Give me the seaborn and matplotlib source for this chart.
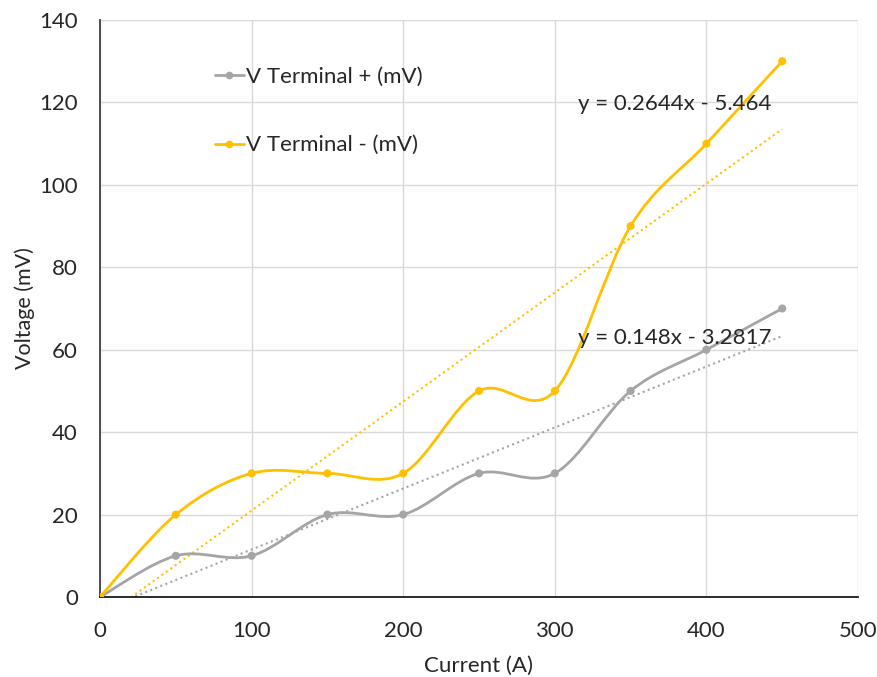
import numpy as np
import pandas as pd
import matplotlib
matplotlib.use("Agg")
import matplotlib.pyplot as plt
from matplotlib.path import Path
from matplotlib.patches import PathPatch
from matplotlib.lines import Line2D
from matplotlib.ticker import MultipleLocator
import seaborn as sns

# Measured terminal voltages versus current
current = [0, 50, 100, 150, 200, 250, 300, 350, 400, 450]
v_pos = [0, 10, 10, 20, 20, 30, 30, 50, 60, 70]
v_neg = [0, 20, 30, 30, 30, 50, 50, 90, 110, 130]

series_names = ["V Terminal + (mV)", "V Terminal - (mV)"]
series_values = [v_pos, v_neg]
series_colors = ["#A5A5A5", "#FFC000"]

# Linear trendline coefficients (slope, intercept)
trend_slopes = [0.148, 0.2644]
trend_intercepts = [-3.2817, -5.464]

x_ticks = [0, 100, 200, 300, 400, 500]
y_ticks = [0, 20, 40, 60, 80, 100, 120, 140]

sns.set_theme(style="white")
plt.rcParams["font.family"] = ["Lato", "DejaVu Sans"]

TEXT = "#262626"
FS = 16

fig = plt.figure(figsize=(8.78, 6.77), dpi=100)
ax = fig.add_axes([100 / 878, 1 - 597 / 677, 758 / 878, 577 / 677])


def smooth_path(x, y):
    """Bezier path through the points, smoothed like a spreadsheet line."""
    pts = np.column_stack([x, y]).astype(float)
    n = len(pts)
    verts = [pts[0]]
    codes = [Path.MOVETO]
    for i in range(n - 1):
        p0 = pts[max(i - 1, 0)]
        p1 = pts[i]
        p2 = pts[i + 1]
        p3 = pts[min(i + 2, n - 1)]
        c1 = p1 + (p2 - p0) / 6.0
        c2 = p2 - (p3 - p1) / 6.0
        verts += [c1, c2, p2]
        codes += [Path.CURVE4] * 3
    return Path(verts, codes)


df = pd.DataFrame({
    "Current": current * 2,
    "Voltage": v_pos + v_neg,
    "Series": [series_names[0]] * len(current) + [series_names[1]] * len(current),
})

# Smoothed series lines
for vals, color in zip(series_values, series_colors):
    patch = PathPatch(smooth_path(current, vals), facecolor="none",
                      edgecolor=color, lw=2.0, zorder=3, capstyle="round")
    ax.add_patch(patch)

# Data markers
sns.scatterplot(data=df, x="Current", y="Voltage", hue="Series",
                palette=series_colors, s=34, edgecolor="none",
                legend=False, zorder=4, ax=ax)

# Linear trendlines
trend_x = [current[0], current[-1]]
for slope, icpt, color in zip(trend_slopes, trend_intercepts, series_colors):
    trend_y = [slope * xv + icpt for xv in trend_x]
    sns.lineplot(x=trend_x, y=trend_y, color=color, lw=1.5,
                 linestyle=(0, (1, 1.6)), zorder=2, ax=ax)

# Trendline equations
label_pos = [(315, 62.8), (315, 119.6)]
for (lx, ly), slope, icpt in zip(label_pos, trend_slopes, trend_intercepts):
    sign = "-" if icpt < 0 else "+"
    ax.text(lx, ly, f"y = {slope:g}x {sign} {abs(icpt):g}", fontsize=FS,
            color=TEXT, ha="left", va="center", zorder=5)

ax.set_xlim(0, 500)
ax.set_ylim(0, 140)
ax.set_xticks(x_ticks)
ax.set_yticks(y_ticks)
ax.xaxis.set_minor_locator(MultipleLocator(20))
ax.yaxis.set_minor_locator(MultipleLocator(4))
ax.grid(True, which="major", color="#D9D9D9", lw=1.0)
ax.set_axisbelow(True)

for side in ["top", "right"]:
    ax.spines[side].set_visible(False)
ax.spines["left"].set_color("#404040")
ax.spines["bottom"].set_color("#1a1a1a")
ax.spines["left"].set_linewidth(1.3)
ax.spines["bottom"].set_linewidth(1.3)

ax.tick_params(axis="both", which="major", direction="in", length=6,
               width=1.0, colors="#404040", labelcolor=TEXT, labelsize=FS)
ax.tick_params(axis="both", which="minor", direction="in", length=4.5,
               width=1.0, colors="#404040")
ax.tick_params(axis="y", which="major", pad=16)
ax.tick_params(axis="x", which="major", pad=17)

ax.set_xlabel("Current (A)", fontsize=FS, color=TEXT, labelpad=11)
ax.set_ylabel("Voltage (mV)", fontsize=15.5, color=TEXT, labelpad=3)

handles = [Line2D([0], [0], color=c, lw=2.0, marker="o", markersize=5.5,
                  markeredgewidth=0) for c in series_colors]
ax.legend(handles, series_names, loc="upper left",
          bbox_to_anchor=(0.14, 0.935), frameon=False, fontsize=FS,
          labelcolor=TEXT, handlelength=1.3, handletextpad=0.1,
          labelspacing=2.2, borderaxespad=0)

fig.savefig("out.png", dpi=100)
